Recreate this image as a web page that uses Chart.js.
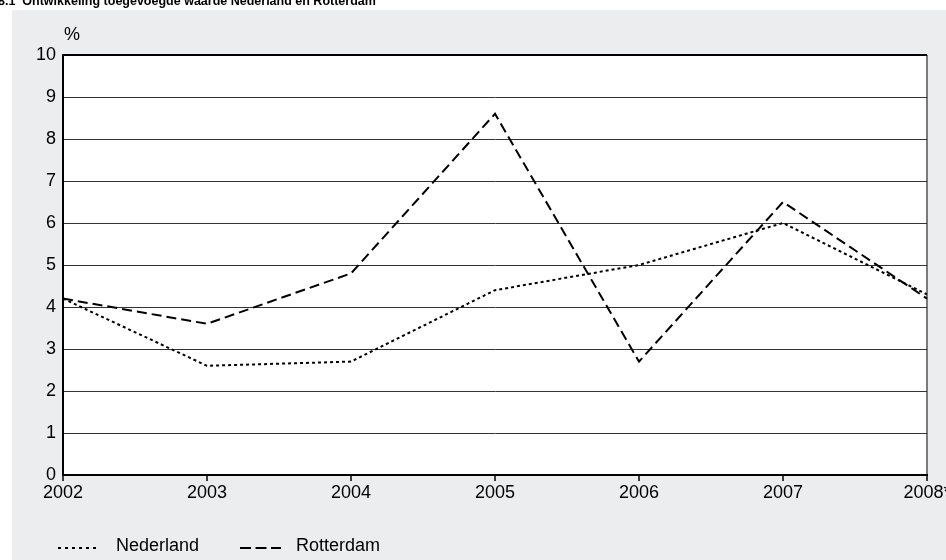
<!DOCTYPE html>
<html>
<head>
<meta charset="utf-8">
<script src="https://cdn.jsdelivr.net/npm/chart.js@4"></script>
<style>
  body { margin: 0; background: #fff; }
</style>
</head>
<body>
<canvas id="chart" width="946" height="560"></canvas>
<script>
// chart data
const years = ['2002', '2003', '2004', '2005', '2006', '2007', '2008*'];
const nederland = [4.2, 2.6, 2.7, 4.4, 5.0, 6.0, 4.3];
const rotterdam = [4.2, 3.6, 4.8, 8.6, 2.7, 6.5, 4.2];
const yMin = 0, yMax = 10, yStep = 1;
const titleText = '8.1  Ontwikkeling toegevoegde waarde Nederland en Rotterdam';
const unitText = '%';

const FONT = '"Liberation Sans", Arial, Helvetica, sans-serif';

// background panel, title, unit and legend
const decor = {
    id: 'decor',
    beforeDraw(chart) {
        const c = chart.ctx;
        const a = chart.chartArea;
        c.save();
        c.fillStyle = '#fff';
        c.fillRect(0, 0, chart.width, chart.height);
        c.fillStyle = '#ecedef';
        c.fillRect(12, 10, chart.width - 12, chart.height - 10);
        c.fillStyle = '#fff';
        c.fillRect(a.left, a.top, a.right - a.left, a.bottom - a.top);
        c.fillStyle = '#000';
        c.font = 'bold 12.5px ' + FONT;
        c.textBaseline = 'alphabetic';
        c.fillText(titleText, -2, 5);
        c.restore();
    },
    afterDraw(chart) {
        const c = chart.ctx;
        c.save();
        c.fillStyle = '#000';
        c.font = '18px ' + FONT;
        c.textBaseline = 'alphabetic';
        c.fillText(unitText, 64, 40);

        // legend
        const items = [
            {ds: chart.data.datasets[0], x: 58, w: 40, dash: [3, 4], tx: 116},
            {ds: chart.data.datasets[1], x: 240, w: 41, dash: [11, 4.5], tx: 296}
        ];
        items.forEach(it => {
            c.strokeStyle = it.ds.borderColor;
            c.lineWidth = 2;
            c.setLineDash(it.dash);
            c.beginPath();
            c.moveTo(it.x, 548);
            c.lineTo(it.x + it.w, 548);
            c.stroke();
            c.setLineDash([]);
            c.fillText(it.ds.label, it.tx, 551);
        });
        c.restore();
    }
};

const ctx = document.getElementById('chart').getContext('2d');
const chart = new Chart(ctx, {
    type: 'line',
    data: {
        labels: years,
        datasets: [{
            label: 'Nederland',
            data: nederland,
            borderColor: '#000',
            borderWidth: 2,
            borderDash: [3, 3],
            pointRadius: 0,
            tension: 0,
            fill: false
        }, {
            label: 'Rotterdam',
            data: rotterdam,
            borderColor: '#000',
            borderWidth: 2,
            borderDash: [10, 5],
            pointRadius: 0,
            tension: 0,
            fill: false
        }]
    },
    options: {
        responsive: false,
        animation: false,
        devicePixelRatio: 1,
        layout: {padding: {left: 0, top: 55, right: 19, bottom: 0}},
        plugins: {
            legend: {display: false},
            tooltip: {enabled: false}
        },
        scales: {
            x: {
                offset: false,
                grid: {
                    drawOnChartArea: true,
                    color: c => c.index === years.length - 1 ? '#7a7a7a' : 'rgba(0,0,0,0)',
                    lineWidth: 2,
                    tickColor: '#000',
                    tickWidth: 1.5,
                    tickLength: 6
                },
                border: {color: '#000', width: 2},
                ticks: {
                    color: '#000',
                    font: {family: FONT, size: 18},
                    padding: 1,
                    maxRotation: 0,
                    autoSkip: false
                },
                afterFit(scale) {
                    scale.height = 85;
                    scale.paddingLeft = 0;
                    scale.paddingRight = 0;
                }
            },
            y: {
                min: yMin,
                max: yMax,
                grid: {
                    color: c => c.index === 10 ? '#000' : '#333',
                    lineWidth: c => c.index === 10 ? 2 : 1,
                    drawTicks: false
                },
                border: {color: '#000', width: 2},
                ticks: {
                    stepSize: yStep,
                    color: '#000',
                    font: {family: FONT, size: 18},
                    padding: 7
                },
                afterFit(scale) {
                    scale.width = 63;
                    scale.paddingTop = 0;
                    scale.paddingBottom = 0;
                }
            }
        }
    },
    plugins: [decor]
});
</script>
</body>
</html>
